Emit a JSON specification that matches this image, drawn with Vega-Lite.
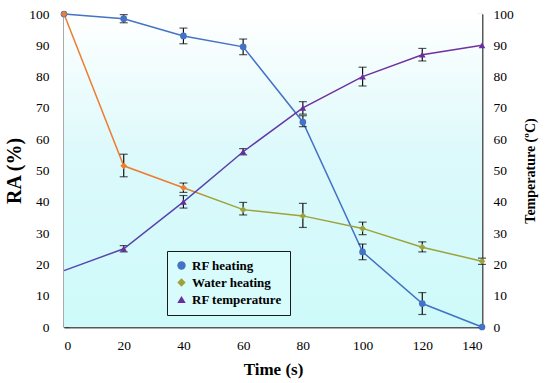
{
  "$schema": "https://vega.github.io/schema/vega-lite/v6.json",
  "width": 418,
  "height": 313,
  "autosize": {"type": "none"},
  "padding": {"left": 64, "top": 14, "right": 68, "bottom": 56},
  "background": "#ffffff",
  "config": {
    "view": {"stroke": null},
    "font": "Liberation Serif",
    "axis": {
      "domainColor": "#595959", "domainWidth": 2, "tickColor": "#404040", "tickWidth": 1.2, "tickSize": -5,
      "labelFont": "Liberation Serif", "labelFontSize": 13.5, "labelColor": "#000000",
      "titleFont": "Liberation Serif", "titleFontWeight": "bold", "titleColor": "#000000", "grid": false
    },
    "axisLeft": {"labelPadding": 20},
    "axisRight": {"labelPadding": 16},
    "axisBottom": {"labelPadding": 16}
  },
  "datasets": {
    "main": [
      {"t": 0, "series": "RF heating", "v": 100},
      {"t": 20, "series": "RF heating", "v": 98.5, "lo": 97.2, "hi": 99.8},
      {"t": 40, "series": "RF heating", "v": 93, "lo": 90.5, "hi": 95.5},
      {"t": 60, "series": "RF heating", "v": 89.5, "lo": 87, "hi": 92},
      {"t": 80, "series": "RF heating", "v": 65.5, "lo": 64, "hi": 67.5},
      {"t": 100, "series": "RF heating", "v": 24, "lo": 21.5, "hi": 26.5},
      {"t": 120, "series": "RF heating", "v": 7.5, "lo": 4, "hi": 11},
      {"t": 140, "series": "RF heating", "v": 0},
      {"t": 0, "series": "Water heating", "v": 100},
      {"t": 20, "series": "Water heating", "v": 51.5, "lo": 48, "hi": 55.2},
      {"t": 40, "series": "Water heating", "v": 44.5, "lo": 43, "hi": 46},
      {"t": 60, "series": "Water heating", "v": 37.5, "lo": 35.8, "hi": 39.8},
      {"t": 80, "series": "Water heating", "v": 35.5, "lo": 31.8, "hi": 39.5},
      {"t": 100, "series": "Water heating", "v": 31.5, "lo": 29.5, "hi": 33.5},
      {"t": 120, "series": "Water heating", "v": 25.5, "lo": 24, "hi": 27.2},
      {"t": 140, "series": "Water heating", "v": 21, "lo": 20, "hi": 22},
      {"t": 0, "series": "RF temperature", "v": 18},
      {"t": 20, "series": "RF temperature", "v": 25, "lo": 24, "hi": 26},
      {"t": 40, "series": "RF temperature", "v": 40, "lo": 38, "hi": 42},
      {"t": 60, "series": "RF temperature", "v": 56, "lo": 55, "hi": 57},
      {"t": 80, "series": "RF temperature", "v": 70, "lo": 68, "hi": 72},
      {"t": 100, "series": "RF temperature", "v": 80, "lo": 77, "hi": 83},
      {"t": 120, "series": "RF temperature", "v": 87, "lo": 85, "hi": 89},
      {"t": 140, "series": "RF temperature", "v": 90}
    ]
  },
  "data": {"name": "main"},
  "encoding": {
    "x": {"field": "t", "type": "quantitative", "scale": {"domain": [0, 140], "nice": false},
      "axis": {"values": [0, 20, 40, 60, 80, 100, 120, 140], "title": "Time (s)", "titleFontSize": 17, "titlePadding": 10}}
  },
  "layer": [
    {
      "layer": [
        {"data": {"values": [{"x0": 0, "x1": 140, "y0": 0, "y1": 100}]},
          "mark": {"type": "rect", "color": {"gradient": "linear", "x1": 0, "y1": 0, "x2": 0, "y2": 1, "stops": [{"offset": 0, "color": "#ffffff"}, {"offset": 0.45, "color": "#dcf9fb"}, {"offset": 1, "color": "#cefafa"}]}},
          "encoding": {"x": {"field": "x0", "type": "quantitative"}, "x2": {"field": "x1"}, "y": {"field": "y0", "type": "quantitative"}, "y2": {"field": "y1"}}},
        {"transform": [{"filter": "datum.series === 'RF heating'"}], "mark": {"type": "line", "color": "#4472C4", "strokeWidth": 1.5},
          "encoding": {"y": {"field": "v", "type": "quantitative"}}},
        {"transform": [{"filter": "datum.series === 'Water heating'"}],
          "mark": {"type": "line", "strokeWidth": 1.5, "color": {"gradient": "linear", "x1": 0, "y1": 0, "x2": 1, "y2": 0, "stops": [{"offset": 0, "color": "#ED7D31"}, {"offset": 0.28, "color": "#ED7D31"}, {"offset": 0.36, "color": "#9DA23A"}, {"offset": 1, "color": "#9DA23A"}]}},
          "encoding": {"y": {"field": "v", "type": "quantitative"}}},
        {"transform": [{"filter": "isValid(datum.lo)"}],
          "mark": {"type": "rule", "color": "#111111", "strokeWidth": 1.2},
          "encoding": {"y": {"field": "lo", "type": "quantitative"}, "y2": {"field": "hi"}}},
        {"transform": [{"filter": "isValid(datum.lo)"}],
          "mark": {"type": "tick", "color": "#111111", "thickness": 1.2, "size": 8, "orient": "horizontal"},
          "encoding": {"y": {"field": "lo", "type": "quantitative"}}},
        {"transform": [{"filter": "isValid(datum.lo)"}],
          "mark": {"type": "tick", "color": "#111111", "thickness": 1.2, "size": 8, "orient": "horizontal"},
          "encoding": {"y": {"field": "hi", "type": "quantitative"}}},
        {"transform": [{"filter": "datum.series !== 'RF temperature'"}],
          "mark": {"type": "point", "filled": true, "size": 45, "opacity": 1},
          "encoding": {
            "y": {"field": "v", "type": "quantitative"},
            "color": {"condition": {"test": "datum.series === 'Water heating' && datum.t <= 40", "value": "#ED7D31"}, "field": "series", "type": "nominal",
              "scale": {"domain": ["RF heating", "Water heating", "RF temperature"], "range": ["#4472C4", "#9DA23A", "#6A2DA0"]},
              "legend": {"title": null, "orient": "none", "legendX": 103, "legendY": 237, "direction": "vertical",
                "labelFont": "Liberation Serif", "labelFontWeight": "bold", "labelFontSize": 13, "labelColor": "#000000",
                "fillColor": "#d8fbfb", "strokeColor": "#1a1a1a", "padding": 8, "rowPadding": 3, "symbolSize": 70, "labelLimit": 200}},
            "shape": {"field": "series", "type": "nominal", "scale": {"domain": ["RF heating", "Water heating", "RF temperature"], "range": ["circle", "diamond", "triangle-up"]}, "legend": null}
          }}
      ],
      "encoding": {"y": {"scale": {"domain": [0, 100], "nice": false}, "axis": {"values": [0, 10, 20, 30, 40, 50, 60, 70, 80, 90, 100], "title": "RA (%)", "titleFontSize": 20, "titlePadding": 4}}}
    },
    {
      "transform": [{"filter": "datum.series === 'RF temperature'"}],
      "layer": [
        {"mark": {"type": "line", "strokeWidth": 1.5, "color": {"gradient": "linear", "x1": 0, "y1": 0, "x2": 1, "y2": 0, "stops": [{"offset": 0, "color": "#5546B0"}, {"offset": 0.4, "color": "#5A40B0"}, {"offset": 0.6, "color": "#7030A0"}, {"offset": 1, "color": "#7030A0"}]}},
          "encoding": {"y": {"field": "v", "type": "quantitative"}}},
        {"transform": [{"filter": "datum.t > 0"}], "mark": {"type": "point", "filled": true, "size": 45, "opacity": 1, "shape": "triangle-up", "color": "#6A2DA0"},
          "encoding": {"y": {"field": "v", "type": "quantitative"}}}
      ],
      "encoding": {"y": {"scale": {"domain": [0, 100], "nice": false}, "axis": {"orient": "right", "values": [0, 10, 20, 30, 40, 50, 60, 70, 80, 90, 100], "title": "Temperature (ºC)", "titleFontSize": 14, "titleAngle": -90, "titleBaseline": "top", "titlePadding": 10}}}
    }
  ],
  "resolve": {"scale": {"y": "independent"}}
}
